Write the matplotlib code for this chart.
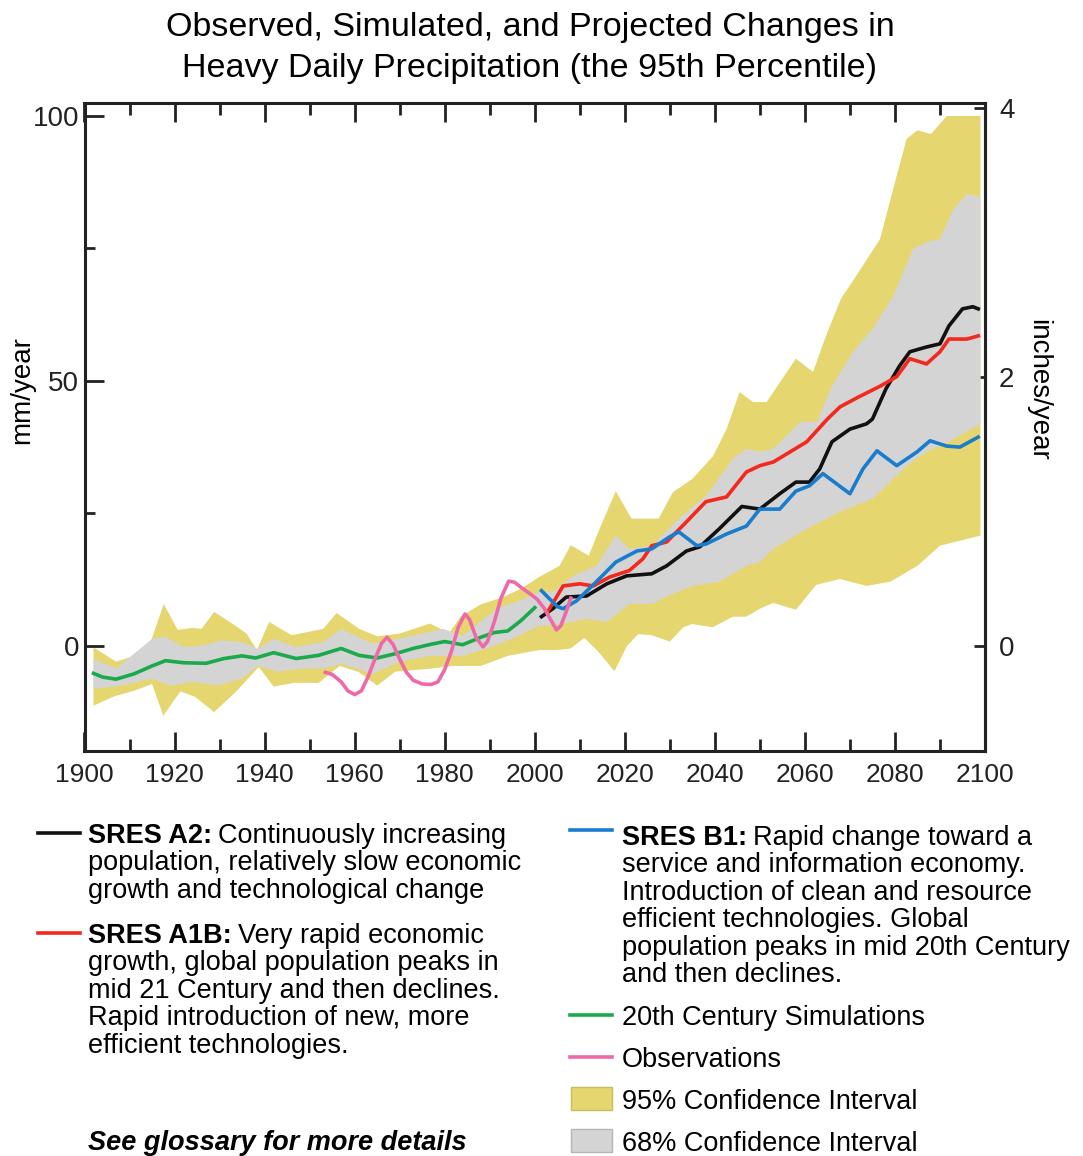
import numpy as np
import matplotlib
matplotlib.use("Agg")
import matplotlib.pyplot as plt
from matplotlib.lines import Line2D
from matplotlib.patches import Rectangle

plt.rcParams["font.family"] = ["Liberation Sans", "DejaVu Sans"]

# ---- values (year, change in mm/year) ----
ci95_hi_yr = [1902, 1907, 1911, 1914, 1917.6, 1920.7, 1924, 1926, 1928.8, 1932.8, 1936, 1938.3,
              1941, 1946, 1949, 1953, 1956, 1961, 1965, 1970, 1976.7, 1981, 1983.5, 1988, 1993,
              1997, 2001, 2005.5, 2008, 2012, 2014.4, 2018, 2021.5, 2027.5, 2030.7, 2035, 2039.6,
              2042.6, 2045.5, 2048.5, 2051.5, 2058, 2061.8, 2065, 2068, 2072, 2076.7, 2079.6,
              2082.6, 2085, 2088, 2091.5, 2099]
ci95_hi = [-0.3, -3.0, -1.9, -1.0, 7.9, 3.0, 3.4, 3.2, 6.4, 4.2, 2.3, -0.8,
           4.5, 2.0, 2.5, 3.2, 6.2, 3.2, 1.8, 2.3, 4.2, 2.4, 5.5, 7.8, 9.2,
           10.8, 13.0, 15.1, 19.0, 17.0, 22.1, 29.2, 24.0, 24.0, 29.0, 31.5, 35.8,
           40.9, 47.9, 46.0, 46.0, 54.2, 51.7, 59.2, 65.5, 70.6, 76.8, 86.2,
           95.7, 97.3, 96.6, 100, 100]

ci95_lo_yr = [1902, 1906.7, 1911, 1915, 1917.5, 1921.3, 1924.5, 1928.8, 1933.5, 1938.7, 1942, 1946.5,
              1952, 1956.7, 1961, 1965, 1969, 1977, 1981.8, 1988, 1994, 2001, 2005, 2008, 2011,
              2014, 2017.7, 2020.5, 2023, 2026, 2030, 2033, 2035, 2039.5, 2044, 2047, 2050,
              2053, 2058, 2062.5, 2067.8, 2073.7, 2079, 2085, 2090, 2099]
ci95_lo = [-11.3, -9.5, -8.5, -7.2, -13.2, -8.6, -9.6, -12.5, -8.8, -4.0, -7.7, -7.0,
           -7.0, -3.8, -5.0, -7.5, -4.9, -4.3, -3.8, -3.8, -1.9, -0.8, -0.8, -0.5, 1.5,
           -1.0, -4.8, 0.0, 2.2, 2.0, 0.8, 3.5, 4.1, 3.5, 5.5, 5.5, 7.0,
           8.1, 6.8, 11.5, 12.6, 11.3, 12.1, 15.1, 18.9, 20.8]

ci68_hi_yr = [1902, 1907, 1915, 1918, 1922, 1926, 1930.5, 1935, 1938.5, 1942, 1947, 1953, 1957,
              1964, 1973, 1979.6, 1984, 1991.5, 1996, 2001, 2004, 2008.5, 2013.7, 2018, 2021,
              2026, 2032, 2038, 2044, 2047, 2050, 2053, 2059, 2062.7, 2066, 2070.7, 2075,
              2079.6, 2084, 2087, 2090, 2093, 2096, 2099]
ci68_hi = [-2.5, -4.3, 1.3, 1.7, -0.2, 0.0, 1.0, 0.7, -0.6, 1.3, -0.2, 0.7, 3.2,
           0.4, 1.9, 3.2, 1.9, 7.0, 8.3, 10.2, 10.2, 13.2, 15.1, 20.8, 18.3,
           18.9, 24.0, 28.3, 35.3, 37.2, 36.6, 37.2, 42.3, 42.3, 49.0, 55.5, 59.8,
           66.0, 74.9, 76.2, 76.8, 82.5, 85.3, 84.7]

ci68_lo_yr = [1902, 1907, 1915, 1919, 1924, 1929.5, 1935, 1938.5, 1943, 1948, 1953, 1957, 1964,
              1970, 1977, 1984, 1989, 1995, 2001, 2004, 2011.5, 2016, 2021, 2026, 2030.7,
              2035, 2041, 2047, 2050, 2053, 2060.4, 2067.8, 2075, 2082.7, 2087, 2093, 2099]
ci68_lo = [-8.1, -7.7, -6.2, -7.5, -6.8, -7.5, -6.2, -3.8, -4.9, -4.3, -4.3, -3.4, -5.3,
           -3.0, -1.9, -1.9, -0.6, 1.3, 3.8, 3.8, 5.1, 4.5, 7.9, 7.9, 9.8,
           11.3, 12.1, 15.1, 15.8, 18.3, 22.1, 25.3, 27.7, 34.0, 36.6, 39.0, 41.9]

sim20_yr = [1902, 1904, 1907, 1911, 1915, 1918, 1922, 1927, 1931, 1935, 1938, 1942, 1947,
            1952, 1957, 1961, 1965, 1969, 1973, 1977, 1980, 1984, 1988, 1991, 1994, 1997, 2000]
sim20 = [-5.2, -5.9, -6.3, -5.3, -3.8, -2.8, -3.2, -3.3, -2.4, -1.9, -2.3, -1.3, -2.4,
         -1.8, -0.5, -1.8, -2.3, -1.5, -0.5, 0.3, 0.8, 0.2, 1.6, 2.5, 2.8, 4.8, 7.2]

obs_yr = [1953.5, 1955, 1957, 1958.5, 1960, 1961.5, 1963, 1964.5, 1966, 1967.2, 1968.5, 1970,
          1971.5, 1973, 1975, 1977, 1978.5, 1980, 1981.5, 1983, 1984.5, 1985.5, 1987, 1988.5,
          1989.5, 1991, 1992.5, 1994.2, 1995.5, 1997, 1999, 2000.5, 2002, 2003.5, 2004.8,
          2005.8, 2007, 2008]
obs = [-5.0, -5.4, -6.8, -8.5, -9.2, -8.5, -5.8, -2.5, 0.5, 1.6, 0.3, -2.5,
       -5.0, -6.5, -7.2, -7.3, -6.8, -4.5, -1.0, 3.5, 6.0, 5.0, 1.5, -0.2,
       0.8, 4.5, 9.0, 12.2, 12.0, 11.0, 9.8, 8.8, 7.2, 5.0, 3.0,
       3.8, 6.5, 9.0]

a2_yr = [2001.5, 2004, 2007, 2011.5, 2016, 2020.4, 2026, 2029.3, 2033.7, 2036.7, 2041, 2046,
         2050, 2054.4, 2058, 2061, 2063.3, 2066, 2070, 2073.7, 2075, 2078, 2081, 2083.3,
         2087, 2090, 2092, 2095, 2097.3, 2098.5]
a2 = [5.5, 7.0, 9.2, 9.4, 11.7, 13.2, 13.6, 15.1, 17.9, 18.7, 22.1, 26.3,
      25.8, 28.7, 30.9, 30.9, 33.4, 38.5, 40.9, 41.9, 42.8, 48.5, 52.8, 55.5,
      56.4, 57.0, 60.4, 63.6, 64.0, 63.6]

a1b_yr = [2003, 2006.3, 2010, 2013, 2016.7, 2021, 2024, 2026, 2029.3, 2033.7, 2038, 2042.6,
          2047, 2050, 2053, 2056.7, 2060.4, 2065, 2067.8, 2072, 2076.7, 2080.4, 2083.3,
          2087, 2090, 2092, 2096, 2098.5]
a1b = [6.6, 11.3, 11.7, 11.3, 13.0, 14.2, 16.4, 18.9, 19.6, 23.4, 27.2, 28.1,
       32.8, 34.0, 34.7, 36.6, 38.5, 42.8, 45.1, 47.0, 49.0, 50.8, 54.2,
       53.2, 55.5, 57.9, 57.9, 58.5]

b1_yr = [2001.5, 2005, 2006.3, 2009.3, 2013.7, 2018, 2022.7, 2026, 2030, 2032, 2036, 2038,
         2042.6, 2047, 2050, 2054.4, 2058, 2061, 2064, 2070, 2072.9, 2076, 2080.4, 2084.9,
         2087.8, 2091.5, 2094.4, 2098.5]
b1 = [10.4, 7.4, 7.0, 8.5, 12.1, 15.8, 17.9, 18.3, 20.6, 21.5, 18.9, 19.2,
      21.1, 22.6, 25.8, 25.8, 29.2, 30.2, 32.5, 28.7, 33.4, 36.8, 34.0, 36.6,
      38.7, 37.7, 37.5, 39.4]

YELLOW = "#e5d66f"
GRAY = "#d4d4d4"
GREEN = "#1aaa4c"
PINK = "#ee6aa7"
RED = "#f2291c"
BLUE = "#1a7ccc"
BLACK = "#111111"

W, H = 1083, 1156
fig = plt.figure(figsize=(W / 100, H / 100), dpi=100)
ax = fig.add_axes([84.5 / W, 1 - 750.7 / H, (985 - 84.5) / W, (750.7 - 103.3) / H])

# confidence bands as closed polygons (upper edge then lower edge reversed)
ax.fill(np.r_[ci95_hi_yr, ci95_lo_yr[::-1]], np.r_[ci95_hi, ci95_lo[::-1]], color=YELLOW, lw=0)
ax.fill(np.r_[ci68_hi_yr, ci68_lo_yr[::-1]], np.r_[ci68_hi, ci68_lo[::-1]], color=GRAY, lw=0)

lw = 2.6
ax.plot(sim20_yr, sim20, color=GREEN, lw=lw, solid_joinstyle="round")
ax.plot(a2_yr, a2, color=BLACK, lw=lw, solid_joinstyle="round")
ax.plot(a1b_yr, a1b, color=RED, lw=lw, solid_joinstyle="round")
ax.plot(b1_yr, b1, color=BLUE, lw=lw, solid_joinstyle="round")
ax.plot(obs_yr, obs, color=PINK, lw=lw, solid_joinstyle="round")

ax.set_xlim(1900, 2100)
ax.set_ylim(-19.8, 102.4)
ax.set_xticks(range(1900, 2101, 20))
ax.set_xticks(range(1910, 2100, 20), minor=True)
ax.set_yticks([0, 50, 100])
ax.set_yticks([25, 75], minor=True)
ax.tick_params(axis="x", which="both", direction="in", top=True, bottom=True, width=2,
               labelsize=19, pad=9, colors="#222222")
ax.tick_params(axis="x", which="major", length=13.5)
ax.tick_params(axis="x", which="minor", length=8.5)
ax.tick_params(axis="y", which="both", direction="in", left=True, right=False, width=2,
               labelsize=20, pad=4, colors="#222222")
ax.tick_params(axis="y", which="major", length=13.5)
ax.tick_params(axis="y", which="minor", length=7)
for s in ax.spines.values():
    s.set_linewidth(2.2)
    s.set_color("#222222")

sec = ax.secondary_yaxis("right", functions=(lambda mm: mm / 25.4, lambda inch: inch * 25.4))
sec.set_yticks([0, 2, 4])
sec.tick_params(direction="in", length=8, width=2, labelsize=20, pad=10, colors="#222222")
sec.spines["right"].set_linewidth(2.2)

# overlay in pixel coordinates for title, axis titles and the legend block
ov = fig.add_axes([0, 0, 1, 1])
ov.set_xlim(0, W)
ov.set_ylim(H, 0)
ov.axis("off")

ov.text(530, 36, "Observed, Simulated, and Projected Changes in", ha="center", va="baseline", fontsize=24.5)
ov.text(530, 77, "Heavy Daily Precipitation (the 95th Percentile)", ha="center", va="baseline", fontsize=24.5)
ov.text(22, 390, "mm/year", rotation=90, ha="center", va="center", fontsize=20)
ov.text(1038, 390, "inches/year", rotation=270, ha="center", va="center", fontsize=20)

renderer = fig.canvas.get_renderer()
FS = 19.5


def entry(x, y0, step, head, lines):
    t = ov.text(x, y0, head, fontsize=FS, fontweight="bold", va="baseline")
    bb = t.get_window_extent(renderer)
    ov.text(bb.x1 + 6, y0, lines[0], fontsize=FS, va="baseline")
    for i, ln in enumerate(lines[1:], start=1):
        ov.text(x, y0 + i * step, ln, fontsize=FS, va="baseline")


step = 27.4
ov.add_line(Line2D([38, 80], [833, 833], color=BLACK, lw=2.6))
entry(88, 843, step, "SRES A2:", ["Continuously increasing",
                                  "population, relatively slow economic",
                                  "growth and technological change"])
ov.add_line(Line2D([38, 80], [933, 933], color=RED, lw=2.6))
entry(88, 943, step, "SRES A1B:", ["Very rapid economic",
                                   "growth, global population peaks in",
                                   "mid 21 Century and then declines.",
                                   "Rapid introduction of new, more",
                                   "efficient technologies."])
ov.text(88, 1150, "See glossary for more details", fontsize=FS, fontweight="bold",
        fontstyle="italic", va="baseline")

ov.add_line(Line2D([570, 612], [830, 830], color=BLUE, lw=2.6))
entry(622, 845, step, "SRES B1:", ["Rapid change toward a",
                                   "service and information economy.",
                                   "Introduction of clean and resource",
                                   "efficient technologies. Global",
                                   "population peaks in mid 20th Century",
                                   "and then declines."])
ov.add_line(Line2D([570, 612], [1015, 1015], color=GREEN, lw=2.6))
ov.text(622, 1025, "20th Century Simulations", fontsize=FS, va="baseline")
ov.add_line(Line2D([570, 612], [1057, 1057], color=PINK, lw=2.6))
ov.text(622, 1067, "Observations", fontsize=FS, va="baseline")
ov.add_patch(Rectangle((571, 1087), 41, 23, facecolor=YELLOW, edgecolor="#c9bb5a", lw=1))
ov.text(622, 1109, "95% Confidence Interval", fontsize=FS, va="baseline")
ov.add_patch(Rectangle((571, 1129), 41, 23, facecolor=GRAY, edgecolor="#b5b5b5", lw=1))
ov.text(622, 1151, "68% Confidence Interval", fontsize=FS, va="baseline")

fig.savefig("out.png", dpi=100)
